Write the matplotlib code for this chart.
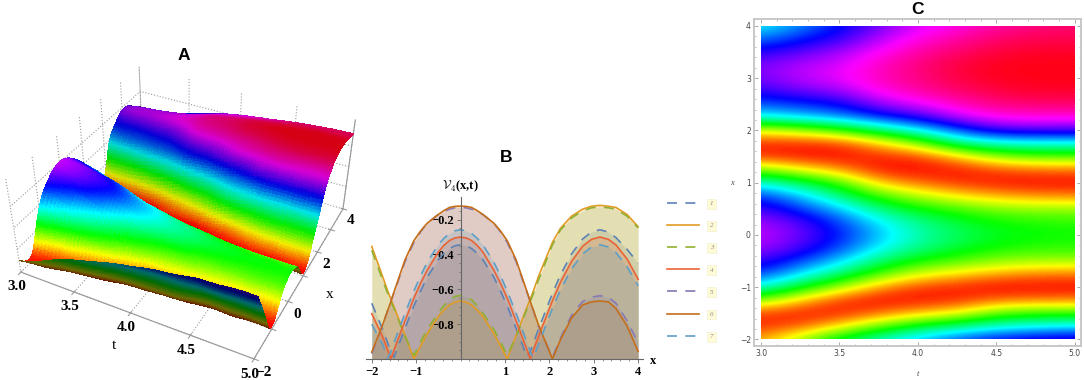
import numpy as np
import matplotlib
matplotlib.use("Agg")
import matplotlib.pyplot as plt
import matplotlib.tri as mtri
from matplotlib.patches import Rectangle
from mpl_toolkits.mplot3d import proj3d

W, H = 1084, 380

# surface values (hue in degrees), one list per t, rows follow x_rows
x_rows = [-2, -1.75, -1.5, -1.25, -1, -0.75, -0.5, -0.25, 0, 0.25, 0.5, 0.75, 1, 1.25, 1.5, 1.75, 2, 2.25, 2.5, 2.75, 3, 3.25, 3.5, 3.75, 4]
t_cols = [3.0, 3.25, 3.5, 3.75, 4.0, 4.25, 4.5, 4.75, 5.0]
u_300 = [40, 10, 15, 95, 178, 230, 260, 282, 290, 282, 260, 230, 170, 90, 10, 10, 70, 180, 225, 255, 272, 272, 250, 215, 180]
u_325 = [85, 20, 5, 50, 130, 190, 230, 262, 270, 262, 230, 195, 140, 60, 3, 10, 85, 195, 235, 270, 290, 285, 265, 235, 210]
u_350 = [135, 55, 5, 15, 85, 150, 195, 228, 240, 228, 195, 150, 105, 35, 0, 15, 110, 210, 245, 280, 300, 295, 280, 255, 240]
u_375 = [170, 95, 25, 0, 40, 105, 150, 185, 198, 185, 150, 105, 45, 3, 10, 50, 150, 235, 280, 310, 320, 318, 305, 285, 270]
u_400 = [200, 130, 45, 3, 15, 70, 120, 155, 165, 155, 122, 75, 25, 0, 15, 90, 185, 255, 300, 325, 335, 335, 325, 310, 295]
u_425 = [225, 150, 60, 8, 8, 55, 105, 135, 145, 135, 105, 55, 10, 5, 50, 155, 225, 290, 320, 340, 350, 350, 340, 325, 310]
u_450 = [245, 170, 100, 25, 0, 40, 90, 120, 130, 120, 90, 40, 3, 20, 90, 175, 260, 310, 335, 350, 358, 358, 350, 340, 325]
u_475 = [255, 178, 110, 28, 0, 32, 85, 113, 123, 113, 85, 32, 0, 28, 105, 180, 265, 312, 340, 355, 360, 360, 355, 345, 335]
u_500 = [260, 185, 110, 30, 0, 30, 85, 112, 120, 112, 85, 30, 0, 30, 105, 180, 265, 312, 340, 355, 360, 360, 355, 345, 340]

# curves of panel B
b_x = [-2, -1.75, -1.64, -1.57, -1.5, -1.25, -1.05, -0.9, -0.75, -0.5, -0.375, -0.25, -0.125, 0, 0.125, 0.25, 0.375, 0.5, 0.75, 0.9, 1.05, 1.25, 1.5, 1.57, 1.64, 1.75, 2.07, 2.25, 2.5, 2.75, 2.95, 3.14, 3.33, 3.5, 3.75, 4]
b_1 = [-0.68, -0.833, -0.909, -0.957, -0.99, -0.823, -0.695, -0.61, -0.531, -0.429, -0.394, -0.366, -0.35, -0.344, -0.35, -0.366, -0.394, -0.429, -0.531, -0.61, -0.695, -0.823, -0.99, -0.957, -0.909, -0.833, -0.623, -0.518, -0.397, -0.311, -0.271, -0.258, -0.271, -0.303, -0.37, -0.45]
b_2 = [-0.354, -0.53, -0.61, -0.655, -0.70, -0.865, -1, -0.925, -0.855, -0.755, -0.719, -0.69, -0.673, -0.667, -0.673, -0.69, -0.719, -0.755, -0.855, -0.925, -1, -0.865, -0.70, -0.655, -0.61, -0.53, -0.33, -0.25, -0.18, -0.14, -0.123, -0.118, -0.123, -0.13, -0.17, -0.24]
b_3 = [-0.376, -0.55, -0.625, -0.67, -0.71, -0.87, -0.98, -0.90, -0.83, -0.735, -0.693, -0.66, -0.641, -0.635, -0.641, -0.66, -0.693, -0.735, -0.83, -0.90, -0.98, -0.87, -0.71, -0.67, -0.625, -0.55, -0.345, -0.26, -0.19, -0.15, -0.132, -0.127, -0.132, -0.14, -0.18, -0.247]
b_4 = [-0.74, -0.875, -0.95, -1, -0.95, -0.78, -0.65, -0.565, -0.49, -0.385, -0.348, -0.32, -0.305, -0.30, -0.305, -0.32, -0.348, -0.385, -0.49, -0.565, -0.65, -0.78, -0.95, -1, -0.95, -0.875, -0.665, -0.56, -0.44, -0.353, -0.313, -0.30, -0.313, -0.345, -0.425, -0.542]
b_5 = [-0.97, -0.80, -0.72, -0.67, -0.62, -0.44, -0.33, -0.27, -0.22, -0.17, -0.153, -0.14, -0.132, -0.129, -0.132, -0.14, -0.153, -0.17, -0.22, -0.27, -0.33, -0.44, -0.62, -0.67, -0.72, -0.81, -0.99, -0.88, -0.75, -0.67, -0.645, -0.637, -0.645, -0.68, -0.78, -0.905]
b_6 = [-0.96, -0.80, -0.72, -0.67, -0.615, -0.43, -0.32, -0.265, -0.22, -0.17, -0.148, -0.13, -0.124, -0.122, -0.124, -0.13, -0.148, -0.17, -0.22, -0.265, -0.32, -0.43, -0.615, -0.67, -0.72, -0.80, -1, -0.89, -0.765, -0.69, -0.672, -0.667, -0.672, -0.71, -0.81, -0.956]
b_7 = [-0.80, -0.919, -0.995, -0.957, -0.907, -0.737, -0.609, -0.522, -0.445, -0.343, -0.307, -0.28, -0.264, -0.258, -0.264, -0.28, -0.307, -0.343, -0.445, -0.522, -0.609, -0.737, -0.907, -0.957, -0.995, -0.919, -0.709, -0.604, -0.483, -0.397, -0.357, -0.344, -0.357, -0.389, -0.469, -0.58]
b_labels = ["1", "2", "3", "4", "5", "6", "7"]
b_colors = ["#5E81B5", "#E19C24", "#8FB032", "#EB6235", "#8778B3", "#C56E1A", "#5D9EC7"]
b_dashed = [True, False, True, False, True, False, True]

plt.rcParams["font.family"] = "Liberation Serif"
plt.rcParams["font.weight"] = "bold"
plt.rcParams["mathtext.fontset"] = "cm"
plt.rcParams["grid.linestyle"] = ":"
plt.rcParams["grid.color"] = "#999999"
plt.rcParams["grid.linewidth"] = 0.8

U = np.column_stack([u_300, u_325, u_350, u_375, u_400, u_425, u_450, u_475, u_500]).astype(float)

fig = plt.figure(figsize=(W / 100, H / 100), dpi=100)


def rect(left, top, right, bottom):
    return [left / W, 1 - bottom / H, (right - left) / W, (bottom - top) / H]


def ptext(x, y, s, **kw):
    return fig.text(x / W, 1 - y / H, s, ha="center", va="center", **kw)


# A: surface
ax = fig.add_axes(rect(-26, -9, 394, 411), projection="3d")
ax.set_proj_type("persp", focal_length=0.364)
ax.view_init(elev=36.5, azim=-63)
ax.set_box_aspect((1, 0.97, 0.45), zoom=0.85)
ax.set_xlim(3, 5)
ax.set_ylim(-2, 4)
ax.set_zlim(-15, 400)
ax.patch.set_alpha(0)

T, X = np.meshgrid(t_cols, x_rows)
tri = mtri.Triangulation(T.ravel(), X.ravel())
tri2, z2 = mtri.UniformTriRefiner(tri).refine_field(U.ravel(), subdiv=3)
z2 = np.clip(z2, 0, 360)
surf = ax.plot_trisurf(tri2, z2, linewidth=0, antialiased=False, shade=False)
tr = tri2.triangles
rgb = plt.get_cmap("hsv")(z2[tr].mean(axis=1) / 360)
px_, py_, _ = proj3d.proj_transform(tri2.x, tri2.y, z2, ax.get_proj())
area = (px_[tr[:, 1]] - px_[tr[:, 0]]) * (py_[tr[:, 2]] - py_[tr[:, 0]]) - (px_[tr[:, 2]] - px_[tr[:, 0]]) * (py_[tr[:, 1]] - py_[tr[:, 0]])
rgb[:, :3] *= np.interp(tri2.y[tr].mean(axis=1), [1, 2.2], [1, 0.84])[:, None]
rgb[area < 0, :3] *= 0.42
surf.set_facecolors(rgb)
surf.set_edgecolors("none")

for a in (ax.xaxis, ax.yaxis, ax.zaxis):
    a.set_pane_color((1, 1, 1, 0))
    a.pane.set_edgecolor("#999999")
    a.line.set_color("#999999")
ax.set_xticks([3.0, 3.5, 4.0, 4.5, 5.0])
ax.set_xticklabels(["3.0", "3.5", "4.0", "4.5", "5.0"], fontsize=11)
ax.set_yticks([-2, -1, 0, 1, 2, 3, 4])
ax.set_yticklabels(["\u22122", "", "0", "", "2", "", "4"], fontsize=11)
ax.set_zticks([95, 190, 285])
ax.set_zticklabels([])
ax.tick_params(axis="z", length=0, color=(1, 1, 1, 0))
ax.tick_params(axis="x", pad=-3, color="#999999")
ax.tick_params(axis="y", pad=-2, color="#999999")
ax.set_xlabel("t", fontsize=11, labelpad=-1)
ax.set_ylabel("x", fontsize=11, labelpad=-3)
ptext(184, 55, "A", fontsize=12.5, family="Liberation Sans")

# B: curves
axb = fig.add_axes(rect(366, 197, 643, 359))
handles = []
for y, lab, col, dash in zip([b_1, b_2, b_3, b_4, b_5, b_6, b_7], b_labels, b_colors, b_dashed):
    axb.fill_between(b_x, y, -1, color=col, alpha=0.2, lw=0)
    line, = axb.plot(b_x, y, color=col, lw=1.2, label=lab)
    if dash:
        line.set_dashes((6, 5))
    handles.append(line)
axb.set_xlim(-2.13, 4.11)
axb.set_ylim(-1, -0.07)
axb.patch.set_alpha(0)
for s in ("top", "right"):
    axb.spines[s].set_visible(False)
axb.spines["left"].set_position(("data", 0))
axb.spines["left"].set_color("#666666")
axb.spines["bottom"].set_color("#666666")
axb.set_xticks([-2, -1, 1, 2, 3, 4])
axb.set_xticklabels(["\u22122", "\u22121", "1", "2", "3", "4"], fontsize=9)
axb.set_xticks(np.arange(-2, 4.01, 0.2), minor=True)
axb.set_yticks([-0.8, -0.6, -0.4, -0.2])
axb.set_yticklabels(["\u22120.8", "\u22120.6", "\u22120.4", "\u22120.2"], fontsize=9)
axb.set_yticks(np.arange(-0.95, -0.1, 0.05), minor=True)
axb.tick_params(which="major", length=3, width=0.6, color="#666666", pad=2)
axb.tick_params(which="minor", length=1.5, width=0.5, color="#666666")
ptext(653, 361, "x", fontsize=9)
ptext(460, 186, r"$\mathcal{V}_{4}$(x,t)", fontsize=9)
ptext(506, 157, "B", fontsize=12.5, family="Liberation Sans")
leg = fig.legend(handles=handles, loc="upper left", bbox_to_anchor=(661 / W, 1 - 194 / H), frameon=False,
                 fontsize=5, handlelength=4.6, labelspacing=2.35, handletextpad=1.5)
for txt in leg.get_texts():
    txt.set(color="#888888", style="italic", fontweight="normal")
    txt.set_bbox(dict(boxstyle="square,pad=0.35", fc="#FFFBD6", ec="#D8D8A0", ls=":", lw=0.4))

# C: density map
axc = fig.add_axes(rect(754.3, 19.3, 1081, 345.7))
dt, dx = 0.125, 0.125
im = axc.imshow(U, origin="lower", extent=[3 - dt, 5 + dt, -2 - dx, 4 + dx], cmap="hsv", vmin=0, vmax=360,
                interpolation="bicubic", aspect="auto")
im.set_clip_path(Rectangle((3, -2), 2, 6, transform=axc.transData))
axc.set_xlim(2.957, 5.04)
axc.set_ylim(-2.12, 4.128)
for s in axc.spines.values():
    s.set_color("#c8c8c8")
    s.set_linewidth(1.4)
axc.set_xticks([3.0, 3.5, 4.0, 4.5, 5.0])
axc.set_yticks([-2, -1, 0, 1, 2, 3, 4])
axc.set_xticks(np.arange(3, 5.01, 0.1), minor=True)
axc.set_yticks(np.arange(-2, 4.01, 0.2), minor=True)
axc.tick_params(which="major", direction="in", length=3, width=0.5, color="#888888", top=True, right=True,
                labelsize=5.5, labelcolor="#444444", pad=2.5, labelfontfamily="DejaVu Sans")
axc.tick_params(which="minor", direction="in", length=1.5, width=0.4, color="#888888", top=True, right=True)
for lbl in axc.get_xticklabels() + axc.get_yticklabels():
    lbl.set_fontweight("normal")
ptext(918, 374, "t", fontsize=6, style="italic", fontweight="normal", color="#444444")
ptext(732, 183, "x", fontsize=6, style="italic", fontweight="normal", color="#444444")
ptext(917, 9, "C", fontsize=12.5, family="Liberation Sans")

fig.savefig("out.png", dpi=100)
